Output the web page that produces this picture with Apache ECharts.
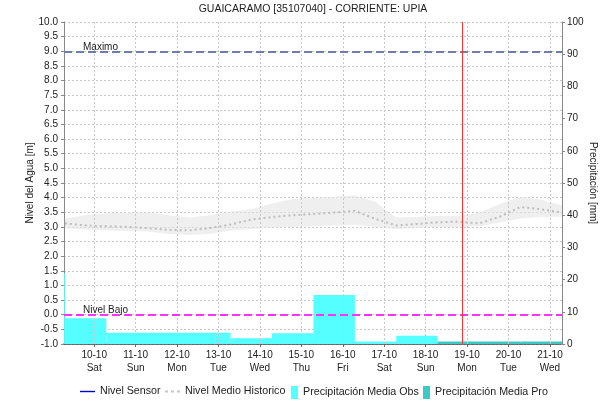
<!DOCTYPE html>
<html>
<head>
<meta charset="utf-8">
<script src="https://cdn.jsdelivr.net/npm/echarts@6/dist/echarts.min.js"></script>
<style>
  html, body { margin: 0; padding: 0; background: #fff; }
  #chart { width: 610px; height: 403px; }
</style>
</head>
<body>
<div id="chart"></div>
<script>
// Station and axis texts
const titleText = 'GUAICARAMO [35107040] - CORRIENTE: UPIA';
const levelAxisName = 'Nivel del Agua [m]';
const precipAxisName = 'Precipitación [mm]';

// Day ticks (hours from 10-10 00:00)
const tickHours = [0, 24, 48, 72, 96, 120, 144, 168, 192, 216, 240, 264];
const dateLabels = ['10-10', '11-10', '12-10', '13-10', '14-10', '15-10', '16-10', '17-10', '18-10', '19-10', '20-10', '21-10'];
const dayLabels = ['Sat', 'Sun', 'Mon', 'Tue', 'Wed', 'Thu', 'Fri', 'Sat', 'Sun', 'Mon', 'Tue', 'Wed'];

// Daily precipitation (07:00 to 07:00), start hour and value in mm
const barHours = 24;
const obsStart = [-41, -17, 7, 31, 55, 79, 103, 127, 151, 175];
const obsValues = [22, 8.0, 3.5, 3.5, 3.5, 1.75, 3.3, 15.2, 0.8, 2.6];
const proStart = [199, 223, 247];
const proValues = [0.8, 0.8, 0.8];

// Historical mean level with its range (m)
const histHours = [-17, -5, 7, 19, 31, 43, 55, 67, 79, 91, 103, 115, 127, 139, 151, 163, 175, 187, 199, 211, 223, 235, 247, 259, 271];
const histMean = [3.12, 3.05, 3.02, 3.00, 2.96, 2.90, 2.88, 2.96, 3.08, 3.25, 3.34, 3.40, 3.44, 3.49, 3.55, 3.27, 3.05, 3.10, 3.16, 3.18, 3.12, 3.35, 3.68, 3.60, 3.49];
const histHigh = [3.29, 3.40, 3.47, 3.49, 3.50, 3.40, 3.32, 3.40, 3.52, 3.60, 3.80, 3.95, 4.00, 4.03, 4.08, 3.85, 3.32, 3.34, 3.37, 3.38, 3.48, 3.78, 4.03, 3.93, 3.74];
const histLow = [2.95, 2.91, 2.89, 2.86, 2.84, 2.76, 2.72, 2.76, 2.88, 2.93, 2.97, 3.00, 3.02, 3.05, 3.07, 3.00, 2.92, 2.96, 3.00, 3.00, 3.02, 3.15, 3.29, 3.34, 3.35];

// Sensor level (no readings in this window)
const sensorData = [];

// Reference levels (m) and current time (hours)
const levelMax = 9.0;
const levelLow = 0.0;
const nowHour = 213;

const FONT = '"Liberation Sans", Arial, sans-serif';
const COLOR_OBS = '#55FFFF';
const COLOR_PRO = '#3CC8C4';
const COLOR_SENSOR = '#0000CC';
const COLOR_HIST = '#BDBDBD';

function barRenderer(color) {
  return function (params, api) {
    const p0 = api.coord([api.value(0), api.value(2)]);
    const p1 = api.coord([api.value(1), 0]);
    const cs = params.coordSys;
    const rect = echarts.graphic.clipRectByRect(
      { x: p0[0], y: p0[1], width: p1[0] - p0[0], height: p1[1] - p0[1] },
      { x: cs.x, y: cs.y, width: cs.width, height: cs.height }
    );
    return rect && { type: 'rect', shape: rect, style: { fill: color } };
  };
}

const obsData = obsStart.map((s, i) => [s, s + barHours, obsValues[i]]);
const proData = proStart.map((s, i) => [s, s + barHours, proValues[i]]);

const legendText = { fontSize: 10.7, color: '#222', fontFamily: FONT };
function lineLegend(name, left, icon, color) {
  return {
    data: [{ name: name, icon: icon, itemStyle: { color: color } }],
    left: left, top: 386, padding: 0,
    itemWidth: 15, itemHeight: 2,
    textStyle: legendText
  };
}
function boxLegend(name, left) {
  return {
    data: [name],
    left: left, top: 386, padding: 0,
    icon: 'rect',
    itemWidth: 7, itemHeight: 13,
    textStyle: legendText
  };
}

const chart = echarts.init(document.getElementById('chart'), null, { renderer: 'canvas' });

chart.setOption({
  animation: false,
  textStyle: { fontFamily: FONT },
  title: {
    text: titleText,
    left: 313,
    textAlign: 'center',
    top: 4,
    padding: 0,
    textStyle: { fontSize: 10.5, fontWeight: 'normal', color: '#222', fontFamily: FONT }
  },
  legend: [
    lineLegend('Nivel Sensor', 80, 'path://M0,0h15v1.4h-15z', COLOR_SENSOR),
    lineLegend('Nivel Medio Historico', 165, 'path://M0,0h3v2h-3z M6,0h3v2h-3z M12,0h3v2h-3z', '#C8C8C8'),
    boxLegend('Precipitación Media Obs', 291),
    boxLegend('Precipitación Media Pro', 423)
  ],
  grid: { left: 64, right: 48, top: 22, bottom: 59 },
  xAxis: {
    type: 'value',
    min: -17.5,
    max: 271,
    axisLine: { onZero: false, lineStyle: { color: '#444', type: [1, 1], width: 1.5 } },
    axisTick: { show: true, customValues: tickHours, length: 3, lineStyle: { color: '#666' } },
    splitLine: { show: false },
    axisLabel: {
      customValues: tickHours,
      margin: 5,
      fontSize: 10,
      lineHeight: 13,
      color: '#222',
      fontFamily: FONT,
      formatter: function (v) {
        const i = tickHours.indexOf(v);
        return i >= 0 ? dateLabels[i] + '\n' + dayLabels[i] : '';
      }
    }
  },
  yAxis: [
    {
      type: 'value',
      min: -1, max: 10, interval: 0.5,
      name: levelAxisName,
      nameLocation: 'middle',
      nameRotate: 90,
      nameGap: 29,
      nameMoveOverlap: false,
      nameTextStyle: { fontSize: 10, color: '#222', fontFamily: FONT },
      axisLine: { show: true, onZero: false, lineStyle: { color: '#888' } },
      axisTick: { show: true, length: 3, lineStyle: { color: '#888' } },
      axisLabel: { fontSize: 10, color: '#222', margin: 6, fontFamily: FONT, formatter: v => v.toFixed(1) },
      splitLine: { show: true, lineStyle: { color: '#C8C8C8', type: [2, 2], width: 1 } }
    },
    {
      type: 'value',
      min: 0, max: 100, interval: 10,
      position: 'right',
      name: precipAxisName,
      nameLocation: 'middle',
      nameRotate: -90,
      nameGap: 26,
      nameMoveOverlap: false,
      nameTextStyle: { fontSize: 10, color: '#222', fontFamily: FONT },
      axisLine: { show: true, onZero: false, lineStyle: { color: '#888' } },
      axisTick: { show: true, length: 3, lineStyle: { color: '#888' } },
      axisLabel: { fontSize: 10, color: '#222', margin: 5, fontFamily: FONT },
      splitLine: { show: false }
    }
  ],
  series: [
    {
      // historical range band, plus the daily vertical grid
      name: 'Rango Historico',
      type: 'custom',
      yAxisIndex: 0,
      z: 1,
      silent: true,
      data: histHours.map((h, i) => [h, histLow[i], histHigh[i]]),
      renderItem: function (params, api) {
        if (params.dataIndex !== 0) return null;
        const pts = [];
        for (let i = 0; i < histHours.length; i++) pts.push(api.coord([histHours[i], histHigh[i]]));
        for (let i = histHours.length - 1; i >= 0; i--) pts.push(api.coord([histHours[i], histLow[i]]));
        return { type: 'polygon', shape: { points: pts }, style: { fill: 'rgba(228,228,228,0.6)' } };
      },
      markLine: {
        silent: true,
        symbol: ['none', 'none'],
        label: { show: false },
        lineStyle: { color: '#C8C8C8', type: [2, 2], width: 1 },
        data: tickHours.map(h => ({ xAxis: h }))
      }
    },
    {
      name: 'Precipitación Media Obs',
      type: 'custom',
      yAxisIndex: 1,
      z: 2,
      itemStyle: { color: COLOR_OBS },
      encode: { x: [0, 1], y: 2 },
      data: obsData,
      renderItem: barRenderer(COLOR_OBS)
    },
    {
      name: 'Precipitación Media Pro',
      type: 'custom',
      yAxisIndex: 1,
      z: 2,
      itemStyle: { color: COLOR_PRO },
      encode: { x: [0, 1], y: 2 },
      data: proData,
      renderItem: barRenderer(COLOR_PRO)
    },
    {
      name: 'Nivel Sensor',
      type: 'line',
      yAxisIndex: 0,
      z: 3,
      symbol: 'none',
      color: COLOR_SENSOR,
      lineStyle: { color: COLOR_SENSOR, width: 1.5 },
      data: sensorData
    },
    {
      name: 'Nivel Medio Historico',
      type: 'line',
      yAxisIndex: 0,
      z: 4,
      symbol: 'none',
      color: COLOR_HIST,
      lineStyle: { color: COLOR_HIST, width: 2, type: [2, 3] },
      data: histHours.map((h, i) => [h, histMean[i]]),
      markLine: {
        silent: true,
        symbol: ['none', 'none'],
        data: [
          {
            yAxis: levelMax,
            lineStyle: { color: '#6E7DAA', width: 2, type: [8, 4] },
            label: { show: true, formatter: 'Maximo', position: 'insideStartTop', distance: [19, -1], fontSize: 10, color: '#222', fontFamily: FONT }
          },
          {
            yAxis: levelLow,
            lineStyle: { color: '#FF33FF', width: 2, type: [8, 4] },
            label: { show: true, formatter: 'Nivel Bajo', position: 'insideStartTop', distance: [19, -1], fontSize: 10, color: '#222', fontFamily: FONT }
          },
          {
            xAxis: nowHour,
            lineStyle: { color: '#FF3030', width: 1, type: 'solid' },
            label: { show: false }
          }
        ]
      }
    }
  ]
});
</script>
</body>
</html>
